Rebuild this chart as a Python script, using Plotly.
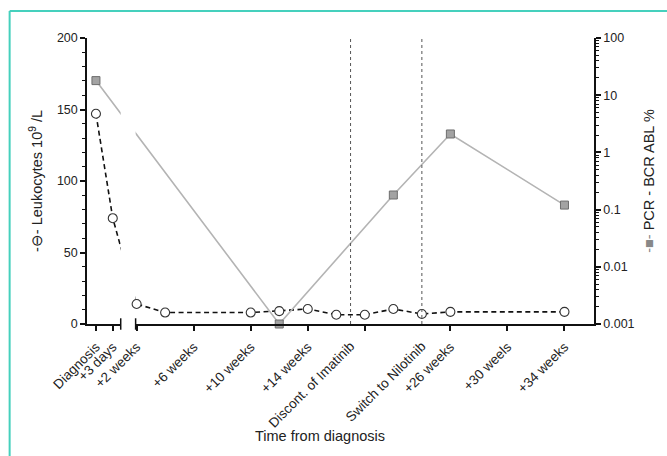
import plotly.graph_objects as go

# ---- data ----
seg1_labels = ["Diagnosis", "+3 days"]
seg1_pos = [-0.85, 0.33]

seg2_tickvals = [2, 6, 10, 14, 18, 24, 28, 32]
seg2_ticktext = ["+2 weeks", "+6 weeks", "+10 weeks", "+14 weeks", " ", "+26 weeks", "+30 weels", "+34 weeks"]

event_pos = [17, 22]
event_labels = ["Discont. of Imatinib", "Switch to Nilotinib"]

leuko_x = [-0.85, 0.33, 2, 4, 10, 12, 14, 16, 18, 20, 22, 24, 32]
leuko_y = [147, 74, 14, 8, 8, 9, 10.5, 6.5, 6.5, 10.5, 7, 8.5, 8.5]

pcr_x = [-0.85, 12, 20, 24, 32]
pcr_y = [18, 0.001, 0.18, 2.1, 0.12]

# ---- layout geometry ----
seg1_range = [-1.478, 0.887]
seg2_range = [1.93, 34.07]
seg1_dom = [0, 0.0665]
seg2_dom = [0.0959, 1]

FONT = "Liberation Sans, Arial, sans-serif"
TXT = "#222222"

fig = go.Figure()

def inr(xs, ys, r):
    pts = [(a, b) for a, b in zip(xs, ys) if r[0] <= a <= r[1]]
    return [p[0] for p in pts], [p[1] for p in pts]

for xa, rng in (("x", seg1_range), ("x2", seg2_range)):
    fig.add_trace(go.Scatter(x=pcr_x, y=pcr_y, xaxis=xa, yaxis="y2", mode="lines",
                             line=dict(color="#b4b4b4", width=1.6), showlegend=False, hoverinfo="skip"))
    px_, py_ = inr(pcr_x, pcr_y, rng)
    fig.add_trace(go.Scatter(x=px_, y=py_, xaxis=xa, yaxis="y2", mode="markers", cliponaxis=False,
                             marker=dict(symbol="square", size=8, color="#a3a3a3",
                                         line=dict(color="#6e6e6e", width=1)),
                             showlegend=False))
    fig.add_trace(go.Scatter(x=leuko_x, y=leuko_y, xaxis=xa, yaxis="y", mode="lines",
                             line=dict(color="#111111", width=1.6, dash="5px,3.5px"),
                             showlegend=False, hoverinfo="skip"))
    lx, ly = inr(leuko_x, leuko_y, rng)
    fig.add_trace(go.Scatter(x=lx, y=ly, xaxis=xa, yaxis="y", mode="markers", cliponaxis=False,
                             marker=dict(symbol="circle", size=9, color="white",
                                         line=dict(color="#333333", width=1.1)),
                             showlegend=False))

fig.add_trace(go.Scatter(x=event_pos, y=[None, None], xaxis="x3", yaxis="y",
                         mode="markers", showlegend=False, hoverinfo="skip"))

axis_common = dict(showline=True, linecolor="#111111", linewidth=1.5, ticks="outside",
                   ticklen=5, tickwidth=1.5, tickcolor="#111111", showgrid=False, zeroline=False,
                   tickfont=dict(family=FONT, size=13.5, color=TXT), tickangle=-45)
xextra = dict(ticklabelstandoff=3)
yfont = dict(tickfont=dict(family=FONT, size=12.5, color=TXT), tickangle=0)

fig.update_layout(
    width=667, height=456,
    margin=dict(l=87, r=69, t=38, b=132),
    paper_bgcolor="white", plot_bgcolor="white",
    font=dict(family=FONT, color=TXT),
    xaxis=dict(domain=seg1_dom, range=seg1_range, anchor="y", tickmode="array",
               tickvals=seg1_pos, ticktext=seg1_labels, **axis_common, **xextra),
    xaxis2=dict(domain=seg2_dom, range=seg2_range, anchor="y", tickmode="array",
                tickvals=seg2_tickvals, ticktext=seg2_ticktext, **axis_common, **xextra),
    xaxis3=dict(domain=seg2_dom, range=seg2_range, anchor="y", overlaying="x2", tickmode="array",
                tickvals=event_pos, ticktext=event_labels,
                **{**axis_common, "showline": False, "tickcolor": "rgba(0,0,0,0)"}, **xextra),
    yaxis=dict(range=[0, 200], anchor="x", tickmode="linear", tick0=0, dtick=50,
               minor=dict(tickmode="linear", tick0=0, dtick=10, ticks="outside", ticklen=3,
                          tickwidth=1.2, tickcolor="#111111"),
               title=dict(text="-⊖- Leukocytes 10<sup>9</sup> /L", standoff=11,
                          font=dict(family=FONT, size=14.5, color=TXT)),
               **{**axis_common, **yfont}),
    yaxis2=dict(type="log", range=[-3, 2], overlaying="y", side="right", anchor="x2",
                tickmode="array", tickvals=[0.001, 0.01, 0.1, 1, 10, 100],
                ticktext=["0.001", "0.01", "0.1", "1", "10", "100"],
                minor=dict(tickmode="array",
                           tickvals=[k * 10 ** e for e in range(-3, 2) for k in range(2, 10)],
                           ticks="outside", ticklen=3, tickwidth=1.2, tickcolor="#111111"),
                title=dict(text="<span style='color:#888888'>-■-</span> PCR - BCR ABL %", standoff=10,
                           font=dict(family=FONT, size=14.5, color=TXT)),
                **{**axis_common, **yfont}),
    annotations=[dict(text="Time from diagnosis", x=0.46, y=-0.427, xref="paper", yref="paper",
                      showarrow=False, font=dict(family=FONT, size=14.5, color=TXT))],
)

shapes = []
for p in event_pos:
    shapes.append(dict(type="line", xref="x2", yref="paper", x0=p, x1=p, y0=0, y1=1,
                       line=dict(color="#555555", width=1, dash="dot")))
shapes.append(dict(type="line", xref="paper", yref="paper", x0=seg1_dom[1], x1=seg1_dom[1],
                   y0=-0.02, y1=0.02, line=dict(color="#111111", width=1.5)))
shapes.append(dict(type="line", xref="paper", yref="paper", x0=seg2_dom[0], x1=seg2_dom[0],
                   y0=-0.02, y1=0.02, line=dict(color="#111111", width=1.5)))
shapes.append(dict(type="line", xref="paper", yref="paper", x0=-0.1526, x1=1.2, y0=1.0944, y1=1.0944,
                   line=dict(color="#45d0bd", width=2)))
shapes.append(dict(type="line", xref="paper", yref="paper", x0=-0.1526, x1=-0.1526, y0=1.0944, y1=-0.5,
                   line=dict(color="#45d0bd", width=2)))
fig.update_layout(shapes=shapes)

fig.write_html("out.html", config={"displayModeBar": False},
               post_script="document.body.style.margin='0';document.body.style.overflow='hidden';")
